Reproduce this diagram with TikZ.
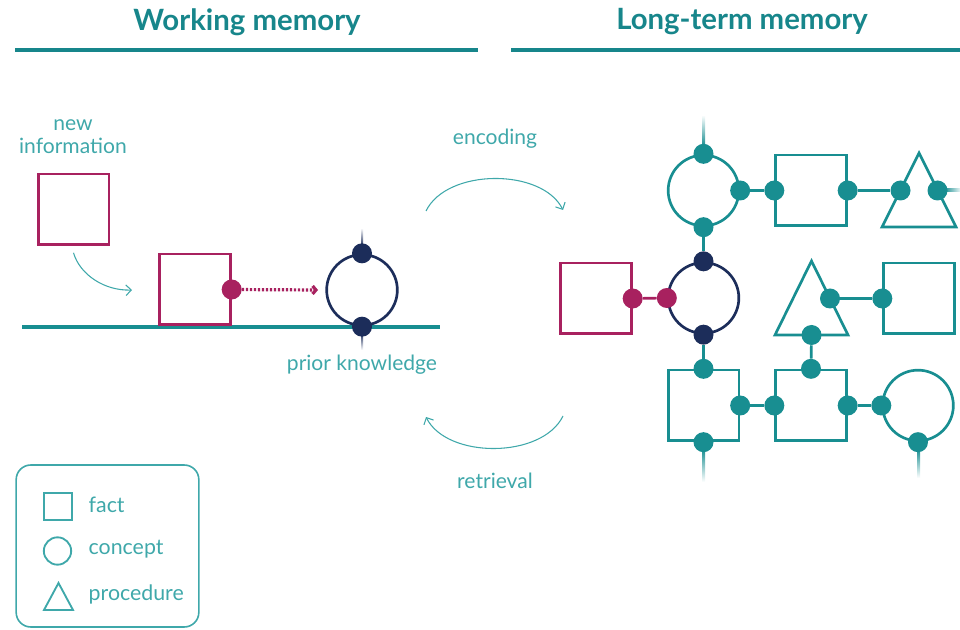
\documentclass[tikz,border=0pt]{standalone}
\usepackage{fontspec}
\setmainfont{Lato}
\usetikzlibrary{arrows.meta}
\definecolor{cHead}{HTML}{17868B}
\definecolor{cTeal}{HTML}{188E91}
\definecolor{cText}{HTML}{3FA8AA}
\definecolor{cMag}{HTML}{A8215F}
\definecolor{cNavy}{HTML}{1C2D5A}
\begin{document}
\begin{tikzpicture}[x=0.75pt,y=-0.75pt,
  shapeline/.style={line width=2pt},
  sq/.style={draw=#1, shapeline, rectangle, minimum size=53pt, inner sep=0pt},
  circ/.style={draw=#1, shapeline, circle, minimum size=53pt, inner sep=0pt},
  tri/.style={draw=#1, shapeline, line join=miter},
  jdot/.style={circle, fill=#1, minimum size=15pt, inner sep=0pt},
  link/.style={draw=#1, line width=2pt},
  lbl/.style={text=cText, font=\fontsize{15.8}{17}\selectfont, align=center},
  head/.style={text=cHead, font=\fontsize{22}{26}\selectfont\bfseries},
  flow/.style={draw=cText, line width=0.8pt, -{Straight Barb[length=4pt,width=8pt]}},
  leg/.style={draw=cText, line width=1.4pt},
  legtxt/.style={text=cText, font=\fontsize{16}{18}\selectfont, anchor=west}
]
\useasboundingbox (0,0) rectangle (960,630);

% headers
\node[head] (hwm) at (247,22) {Working memory};
\node[head] (hltm) at (742,22) {Long-term memory};
\coordinate (hl1) at (15,50); \coordinate (hl2) at (478,50);
\coordinate (hr1) at (511,50); \coordinate (hr2) at (960,50);
\draw[cHead, line width=3pt] (hl1) -- (hl2);
\draw[cHead, line width=3pt] (hr1) -- (hr2);

% ---------- working memory ----------
\coordinate (bl1) at (22,327); \coordinate (bl2) at (440,327);
\draw[cTeal, line width=3pt] (bl1) -- (bl2);

\node[lbl] (newinfo) at (73,137) {new\\information};
\node[sq=cMag] (nsq) at (73.5,209.5) {};
\node[sq=cMag] (psq) at (195,289.5) {};
\node[jdot=cMag] (pdot) at (psq.east) {};

\shade[top color=white, bottom color=cNavy] (361,228) rectangle (363,246);
\shade[top color=cNavy, bottom color=white] (361,333) rectangle (363,350);
\node[circ=cNavy] (pk) at (362,290) {};
\node[jdot=cNavy] (pkt) at (pk.north) {};
\node[jdot=cNavy] (pkb) at (pk.south) {};

\coordinate (na2) at (132,290);
\draw[flow] ([yshift=-5pt]nsq.south) .. controls (80,275) and (105,291) .. (na2);

\coordinate (dotend) at (318,290);
\draw[cMag, line width=2.4pt, dash pattern=on 1.6pt off 1.4pt, -{Straight Barb[length=2.5pt,width=6pt]}] (pdot) -- (dotend);

\node[lbl] (prior) at (362,365) {prior knowledge};

% ---------- middle ----------
\node[lbl] (enc) at (495,139) {encoding};
\coordinate (e1) at (426,211); \coordinate (e2) at (563,210);
\draw[flow] (e1) .. controls (447,168) and (542,168) .. (e2);
\node[lbl] (ret) at (495,481) {retrieval};
\coordinate (r1) at (563,416); \coordinate (r2) at (426,417);
\draw[flow] (r1) .. controls (542,459) and (447,459) .. (r2);

% ---------- long-term memory ----------
% fading line ends
\shade[top color=white, bottom color=cTeal] (702,115) rectangle (705,146);
\shade[left color=cTeal, right color=white] (944,189) rectangle (962,192);
\shade[top color=cTeal, bottom color=white] (702,449) rectangle (705,482);
\shade[top color=cTeal, bottom color=white] (917,449) rectangle (920,478);

% row 1
\node[circ=cTeal] (C1) at (703.5,190.5) {};
\node[sq=cTeal] (S1) at (811,190.5) {};
\draw[tri=cTeal] (919,153) -- (956,227) -- (882,227) -- cycle;
\node[jdot=cTeal] (C1n) at (C1.north) {};
\node[jdot=cTeal] (C1e) at (C1.east) {};
\node[jdot=cTeal] (C1s) at (C1.south) {};
\node[jdot=cTeal] (S1w) at (S1.west) {};
\node[jdot=cTeal] (S1e) at (S1.east) {};
\node[jdot=cTeal] (T1a) at (900.5,190.5) {};
\node[jdot=cTeal] (T1b) at (937.5,190.5) {};

% row 2
\node[sq=cMag] (M) at (596,298.5) {};
\node[jdot=cMag] (Me) at (M.east) {};
\node[circ=cNavy] (N) at (703.5,298) {};
\node[jdot=cNavy] (Nn) at (N.north) {};
\node[jdot=cNavy] (Ns) at (N.south) {};
\node[jdot=cMag] (Nw) at (N.west) {};
\draw[tri=cTeal] (811.5,261) -- (848,335) -- (775,335) -- cycle;
\node[jdot=cTeal] (T2e) at (830,298.5) {};
\node[jdot=cTeal] (T2s) at (811.5,335) {};
\node[sq=cTeal] (S2) at (919,298.5) {};
\node[jdot=cTeal] (S2w) at (S2.west) {};

% row 3
\node[sq=cTeal] (S3) at (703.5,405.5) {};
\node[sq=cTeal] (S4) at (811,405.5) {};
\node[circ=cTeal] (C2) at (918,405.5) {};
\node[jdot=cTeal] (S3n) at (S3.north) {};
\node[jdot=cTeal] (S3e) at (S3.east) {};
\node[jdot=cTeal] (S3s) at (S3.south) {};
\node[jdot=cTeal] (S4n) at (S4.north) {};
\node[jdot=cTeal] (S4w) at (S4.west) {};
\node[jdot=cTeal] (S4e) at (S4.east) {};
\node[jdot=cTeal] (C2w) at (C2.west) {};
\node[jdot=cTeal] (C2s) at (C2.south) {};

% links
\draw[link=cTeal] (C1e) -- (S1w);
\draw[link=cTeal] (S1e) -- (T1a);
\draw[link=cTeal] (C1s) -- (Nn);
\draw[link=cMag] (Me) -- (Nw);
\draw[link=cTeal] (T2e) -- (S2w);
\draw[link=cTeal] (Ns) -- (S3n);
\draw[link=cTeal] (T2s) -- (S4n);
\draw[link=cTeal] (S3e) -- (S4w);
\draw[link=cTeal] (S4e) -- (C2w);

% ---------- legend ----------
\node[draw=cText, line width=1.2pt, rounded corners=11pt, minimum width=137pt, minimum height=121.5pt, inner sep=0pt] (legend) at (107.5,546) {};
\node[leg, rectangle, minimum size=20.5pt, inner sep=0pt] (lsq) at (58,506.5) {};
\node[leg, circle, minimum size=20.5pt, inner sep=0pt] (lci) at (57.5,551) {};
\draw[leg, line join=miter] (58.5,583) -- (73,610) -- (44,610) -- cycle;
\node[legtxt] (lfact) at (84,505) {fact};
\node[legtxt] (lconc) at (84,549) {concept};
\node[legtxt] (lproc) at (84,594) {procedure};
\end{tikzpicture}
\end{document}
